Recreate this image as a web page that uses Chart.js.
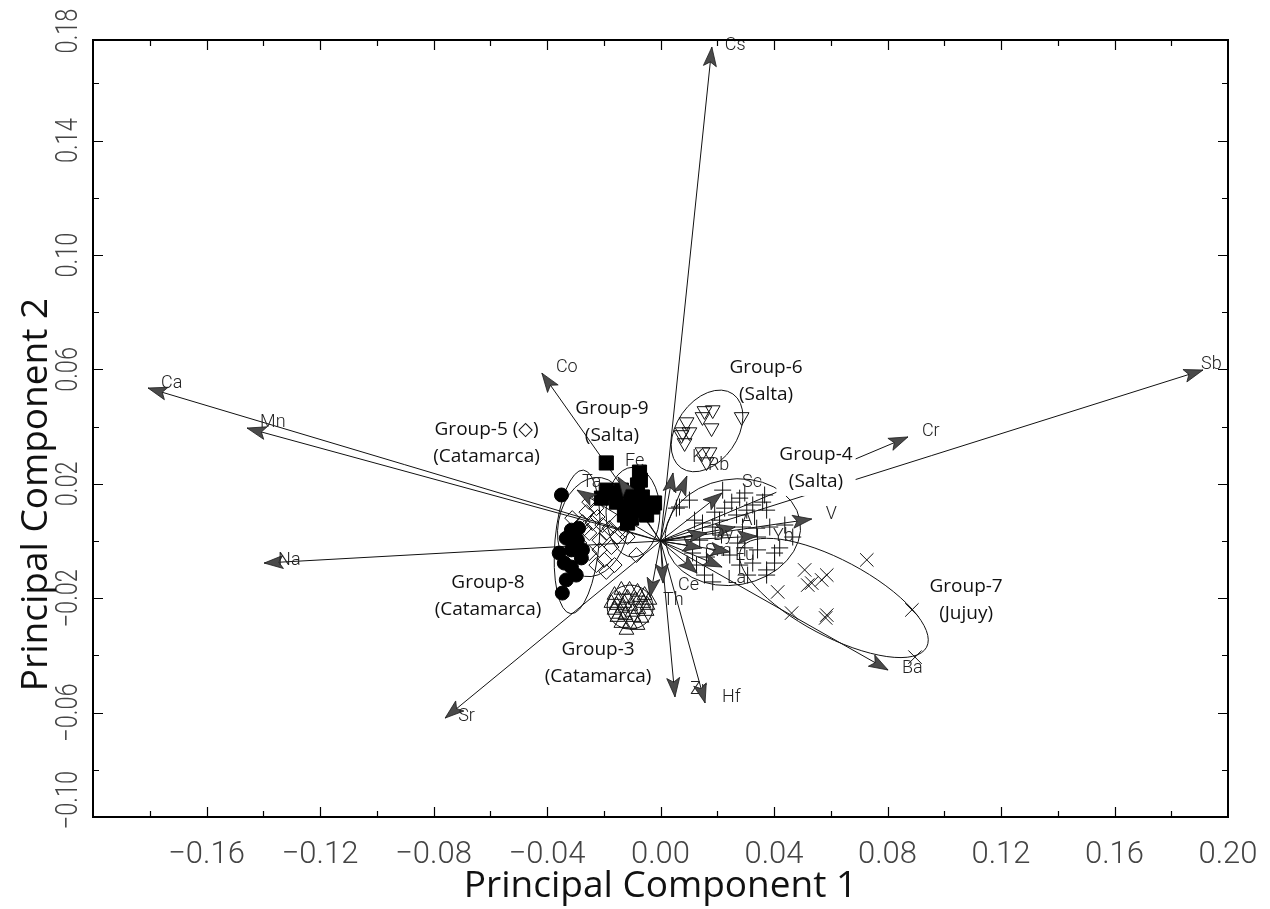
<!DOCTYPE html>
<html>
<head>
<meta charset="utf-8">
<script src="https://cdn.jsdelivr.net/npm/chart.js@4.4.1/dist/chart.umd.min.js"></script>
<style>
  html, body { margin: 0; padding: 0; background: #fff; }
  #wrap { width: 1270px; height: 909px; position: relative; }
</style>
</head>
<body>
<div id="wrap"><canvas id="biplot" width="1270" height="909"></canvas></div>
<script>
// ---- Axis tick labels ----
const xTickValues = [-0.16, -0.12, -0.08, -0.04, 0.00, 0.04, 0.08, 0.12, 0.16, 0.20];
const yTickValues = [-0.10, -0.06, -0.02, 0.02, 0.06, 0.10, 0.14, 0.18];

// ---- Element loadings (arrows from the origin) ----
const elementNames = ['Cs','Sb','Cr','Ca','Mn','Na','Co','Ta','Fe','K','Rb','Sc','V','Al','Dy','Yb','Sm','Eu','La','Lu','Ce','Th','Zr','Hf','Ba','Sr'];
const loadingPC1 = [0.0181, 0.1912, 0.0872, -0.1806, -0.1457, -0.1397, -0.0418, -0.0294, -0.0150, 0.0044, 0.0093, 0.0217, 0.0533, 0.0263, 0.0164, 0.0340, 0.0146, 0.0245, 0.0217, 0.0129, 0.0009, -0.0037, 0.0051, 0.0157, 0.0802, -0.0759];
const loadingPC2 = [0.1727, 0.0598, 0.0364, 0.0535, 0.0395, -0.0077, 0.0587, 0.0178, 0.0224, 0.0238, 0.0227, 0.0168, 0.0077, 0.0049, 0.0028, 0.0017, -0.0024, -0.0038, -0.0091, -0.0112, -0.0147, -0.0196, -0.0545, -0.0566, -0.0451, -0.0619];

// ---- Sample scores per group ----
const group3PC1 = [-0.0162,-0.0138,-0.0109,-0.0081,-0.0056,-0.0173,-0.0145,-0.0116,-0.0088,-0.0060,-0.0039,-0.0162,-0.0134,-0.0106,-0.0078,-0.0049,-0.0152,-0.0124,-0.0095,-0.0067,-0.0138,-0.0109,-0.0081,-0.0120,-0.0155,-0.0099,-0.0127,-0.0071,-0.0046,-0.0145];
const group3PC2 = [-0.0189,-0.0171,-0.0171,-0.0178,-0.0189,-0.0217,-0.0206,-0.0199,-0.0206,-0.0217,-0.0206,-0.0241,-0.0234,-0.0227,-0.0238,-0.0245,-0.0266,-0.0259,-0.0266,-0.0269,-0.0287,-0.0290,-0.0294,-0.0311,-0.0224,-0.0248,-0.0217,-0.0196,-0.0224,-0.0255];

const group4PC1 = [0.0102,0.0067,0.0219,0.0251,0.0279,0.0325,0.0360,0.0374,0.0191,0.0226,0.0268,0.0304,0.0120,0.0148,0.0184,0.0208,0.0289,0.0339,0.0385,0.0438,0.0466,0.0342,0.0272,0.0244,0.0297,0.0325,0.0279,0.0374,0.0402,0.0307,0.0374,0.0184,0.0155,0.0127,0.0113,0.0162,0.0056,0.0420,0.0342,0.0402,0.0297,0.0367,0.0138,0.0215];
const group4PC2 = [0.0143,0.0119,0.0178,0.0136,0.0150,0.0126,0.0136,0.0108,0.0101,0.0115,0.0091,0.0108,0.0073,0.0063,0.0049,0.0073,0.0049,0.0045,0.0049,0.0056,0.0014,0.0014,-0.0007,-0.0049,-0.0024,-0.0077,-0.0084,-0.0101,-0.0077,-0.0119,-0.0119,-0.0143,-0.0119,-0.0084,-0.0042,-0.0056,0.0115,-0.0024,-0.0031,-0.0042,0.0168,0.0161,0.0003,0.0021];

const group5PC1 = [-0.0251,-0.0226,-0.0311,-0.0275,-0.0240,-0.0205,-0.0155,-0.0191,-0.0152,-0.0116,-0.0173,-0.0215,-0.0251,-0.0198,-0.0162,-0.0226,-0.0085,-0.0191,-0.0251,-0.0286,-0.0215,-0.0311,-0.0261,-0.0134,-0.0222,-0.0268,-0.0180];
const group5PC2 = [0.0136,0.0115,0.0080,0.0066,0.0063,0.0056,0.0066,0.0028,0.0014,0.0014,-0.0021,-0.0031,-0.0042,-0.0066,-0.0084,-0.0084,-0.0049,-0.0108,0.0028,-0.0007,0.0003,0.0028,0.0101,0.0031,0.0084,0.0045,0.0045];

const group6PC1 = [0.0155,0.0184,0.0148,0.0180,0.0092,0.0078,0.0102,0.0085,0.0286,0.0148,0.0173,0.0162,0.0074];
const group6PC2 = [0.0455,0.0458,0.0434,0.0395,0.0416,0.0381,0.0381,0.0343,0.0434,0.0311,0.0311,0.0276,0.0371];

const group7PC1 = [0.0727,0.0508,0.0586,0.0533,0.0568,0.0519,0.0413,0.0462,0.0586,0.0582,0.0886,0.0897];
const group7PC2 = [-0.0066,-0.0101,-0.0119,-0.0147,-0.0136,-0.0154,-0.0178,-0.0252,-0.0259,-0.0269,-0.0241,-0.0406];

const group8PC1 = [-0.0349,-0.0314,-0.0293,-0.0332,-0.0357,-0.0314,-0.0279,-0.0314,-0.0297,-0.0332,-0.0346,-0.0275,-0.0289,-0.0339];
const group8PC2 = [0.0161,0.0038,0.0003,0.0010,-0.0042,-0.0031,-0.0059,-0.0091,-0.0119,-0.0136,-0.0182,-0.0031,0.0045,-0.0077];

const group9PC1 = [-0.0191,-0.0074,-0.0081,-0.0138,-0.0191,-0.0102,-0.0064,-0.0155,-0.0109,-0.0028,-0.0074,-0.0127,-0.0049,-0.0102,-0.0208,-0.0169,-0.0085,-0.0021,-0.0116,-0.0071];
const group9PC2 = [0.0273,0.0241,0.0196,0.0178,0.0178,0.0161,0.0154,0.0136,0.0119,0.0119,0.0108,0.0091,0.0091,0.0080,0.0150,0.0168,0.0136,0.0133,0.0063,0.0213];

// ---- Group confidence ellipses (PC units) ----
const ellipseGroups   = ['Group-3','Group-4','Group-5','Group-6','Group-7','Group-8','Group-9'];
const ellipseCenterX  = [-0.0107, 0.0255, -0.0238, 0.0164, 0.0611, -0.0294, -0.0097];
const ellipseCenterY  = [-0.0231, 0.0031, 0.0049, 0.0385, -0.0199, -0.0003, 0.0101];
const ellipseRadiusA  = [0.0081, 0.0240, 0.0123, 0.0159, 0.0370, 0.0078, 0.0095];
const ellipseRadiusB  = [0.0077, 0.0185, 0.0175, 0.0106, 0.0133, 0.0252, 0.0157];
const ellipseAngleDeg = [0, 10, -10, 55, -28, -5, 0];

// ---- Group captions (anchored in PC units) ----
const captionLines = [['Group-6','(Salta)'], ['Group-9','(Salta)'], ['Group-5 (\u25C7)','(Catamarca)'], ['Group-4','(Salta)'], ['Group-8','(Catamarca)'], ['Group-7','(Jujuy)'], ['Group-3','(Catamarca)']];
const captionPC1 = [0.0372, -0.0171, -0.0613, 0.0548, -0.0608, 0.1077, -0.0220];
const captionPC2 = [0.0608, 0.0462, 0.0388, 0.0301, -0.0147, -0.0161, -0.0378];

// ---- Presentation ----
const labelOffsets = {
  Cs:[13,-2], Sb:[-2,-6], Cr:[14,-5], Ca:[13,-5], Mn:[13,-6], Na:[14,-3], Co:[14,-6], Ta:[5,-8],
  Fe:[7,-15], K:[19,-15], Rb:[21,-11], Sc:[20,-10], V:[14,-5], Al:[6,-7], Dy:[6,2], Yb:[16,0],
  Sm:[3,4], Eu:[5,4], La:[5,11], Ce:[15,2], Th:[13,3], Zr:[15,-7], Hf:[17,-5], Ba:[14,-2], Sr:[13,-2]
};
const captionBackdrop = {'Group-4': true};
const yTitleText = 'Principal Component 2';
const tickFamily = "Roboto, 'Liberation Sans', sans-serif";
const textFamily = "'Open Sans', 'Noto Sans', 'DejaVu Sans', sans-serif";
const fmt = v => (v < -1e-9 ? '\u2212' : '') + Math.abs(v).toFixed(2);

const toPoints = (xs, ys) => xs.map((x, i) => ({x, y: ys[i]}));

const groupDatasets = [
  {label:'Group-9', data: toPoints(group9PC1, group9PC2), pointStyle:'rect', pointRadius:10, pointBackgroundColor:'#000', pointBorderColor:'#000', pointBorderWidth:1},
  {label:'Group-8', data: toPoints(group8PC1, group8PC2), pointStyle:'circle', pointRadius:7, pointBackgroundColor:'#000', pointBorderColor:'#000', pointBorderWidth:1},
  {label:'Group-5', data: toPoints(group5PC1, group5PC2), pointStyle:'rectRot', pointRadius:7.5, pointBackgroundColor:'rgba(255,255,255,0)', pointBorderColor:'#111', pointBorderWidth:1},
  {label:'Group-3', data: toPoints(group3PC1, group3PC2), pointStyle:'triangle', pointRadius:8.5, pointBackgroundColor:'rgba(255,255,255,0)', pointBorderColor:'#111', pointBorderWidth:1},
  {label:'Group-6', data: toPoints(group6PC1, group6PC2), pointStyle:'triangle', pointRotation:180, pointRadius:8.5, pointBackgroundColor:'rgba(255,255,255,0)', pointBorderColor:'#111', pointBorderWidth:1},
  {label:'Group-4', data: toPoints(group4PC1, group4PC2), pointStyle:'cross', pointRadius:8.5, pointBorderColor:'#111', pointBorderWidth:1},
  {label:'Group-7', data: toPoints(group7PC1, group7PC2), pointStyle:'crossRot', pointRadius:9.5, pointBorderColor:'#111', pointBorderWidth:1}
].map(d => Object.assign({showLine:false}, d));

const loadingDatasets = elementNames.map((name, i) => ({
  label: name,
  isLoading: true,
  data: [{x:0, y:0}, {x: loadingPC1[i], y: loadingPC2[i]}],
  showLine: true,
  borderColor: '#111',
  borderWidth: 1,
  pointRadius: 0,
  fill: false
}));

// Ellipses, arrowheads, element names, group captions, frame and ticks
const biplotDecor = {
  id: 'biplotDecor',
  beforeDatasetsDraw(chart) {
    const {ctx, scales: {x, y}} = chart;
    const pxX = x.getPixelForValue(1) - x.getPixelForValue(0);
    const pxY = y.getPixelForValue(0) - y.getPixelForValue(1);
    ctx.save();
    ctx.strokeStyle = '#111';
    ctx.lineWidth = 1;
    ellipseGroups.forEach((g, i) => {
      ctx.beginPath();
      ctx.ellipse(x.getPixelForValue(ellipseCenterX[i]), y.getPixelForValue(ellipseCenterY[i]),
        ellipseRadiusA[i] * pxX, ellipseRadiusB[i] * pxY, -ellipseAngleDeg[i] * Math.PI / 180, 0, Math.PI * 2);
      ctx.stroke();
    });
    ctx.restore();
  },
  afterDatasetsDraw(chart) {
    const {ctx, scales: {x, y}} = chart;
    ctx.save();
    chart.data.datasets.forEach((ds, di) => {
      if (!ds.isLoading) return;
      const pts = chart.getDatasetMeta(di).data;
      const p0 = pts[0], p1 = pts[1];
      const a = Math.atan2(p1.y - p0.y, p1.x - p0.x);
      const L = 19, W = 6.5;
      const bx = p1.x - L * Math.cos(a), by = p1.y - L * Math.sin(a);
      const nx = p1.x - 0.78 * L * Math.cos(a), ny = p1.y - 0.78 * L * Math.sin(a);
      ctx.beginPath();
      ctx.moveTo(p1.x, p1.y);
      ctx.lineTo(bx - W * Math.sin(a), by + W * Math.cos(a));
      ctx.lineTo(nx, ny);
      ctx.lineTo(bx + W * Math.sin(a), by - W * Math.cos(a));
      ctx.closePath();
      ctx.fillStyle = '#4a4a4a';
      ctx.fill();
      ctx.strokeStyle = '#1a1a1a';
      ctx.lineWidth = 0.8;
      ctx.stroke();
      const off = labelOffsets[ds.label];
      if (off) {
        ctx.fillStyle = '#222';
        ctx.font = "300 18px " + tickFamily;
        ctx.textAlign = 'left';
        ctx.textBaseline = 'middle';
        ctx.fillText(ds.label, p1.x + off[0], p1.y + off[1]);
      }
    });
    ctx.font = "19px " + textFamily;
    ctx.textAlign = 'center';
    ctx.textBaseline = 'middle';
    captionLines.forEach((lines, i) => {
      const cx = x.getPixelForValue(captionPC1[i]);
      const cy = y.getPixelForValue(captionPC2[i]);
      if (captionBackdrop[lines[0]]) {
        const w = Math.max(...lines.map(t => ctx.measureText(t).width)) + 6;
        ctx.fillStyle = '#fff';
        ctx.fillRect(cx - w / 2, cy - 13, w, 27 * lines.length);
      }
      ctx.fillStyle = '#111';
      lines.forEach((t, k) => ctx.fillText(t, cx, cy + k * 27));
    });
    ctx.restore();
  },
  afterDraw(chart) {
    const {ctx, chartArea: ca, scales: {x, y}} = chart;
    ctx.save();
    ctx.strokeStyle = '#000';
    ctx.lineWidth = 2;
    ctx.strokeRect(ca.left, ca.top, ca.right - ca.left, ca.bottom - ca.top);
    ctx.lineWidth = 1.2;
    const xMinor = xTickValues.slice(0, -1).map((v, i) => (v + xTickValues[i + 1]) / 2).concat([xTickValues[0] - 0.02]);
    const yMinor = yTickValues.slice(0, -1).map((v, i) => (v + yTickValues[i + 1]) / 2);
    const drawX = (v, len) => {
      const px = Math.round(x.getPixelForValue(v)) + 0.5;
      if (px <= ca.left + 1 || px >= ca.right - 1) return;
      ctx.beginPath();
      ctx.moveTo(px, ca.bottom); ctx.lineTo(px, ca.bottom - len);
      ctx.moveTo(px, ca.top); ctx.lineTo(px, ca.top + len);
      ctx.stroke();
    };
    const drawY = (v, len) => {
      const py = Math.round(y.getPixelForValue(v)) + 0.5;
      if (py <= ca.top + 1 || py >= ca.bottom - 1) return;
      ctx.beginPath();
      ctx.moveTo(ca.left, py); ctx.lineTo(ca.left + len, py);
      ctx.moveTo(ca.right, py); ctx.lineTo(ca.right - len, py);
      ctx.stroke();
    };
    xTickValues.forEach(v => drawX(v, 10));
    xMinor.forEach(v => drawX(v, 6));
    yTickValues.forEach(v => drawY(v, 10));
    yMinor.forEach(v => drawY(v, 6));

    // vertical axis tick labels (condensed along the reading direction) and title
    ctx.fillStyle = '#444';
    ctx.font = "300 31px " + tickFamily;
    ctx.textAlign = 'center';
    ctx.textBaseline = 'middle';
    yTickValues.forEach(v => {
      let py = y.getPixelForValue(v);
      if (py > ca.bottom) py = ca.bottom - 17;
      if (py < 31) py = 31;
      ctx.save();
      ctx.translate(69, py);
      ctx.rotate(-Math.PI / 2);
      ctx.scale(0.76, 1);
      ctx.fillText(fmt(v), 0, 0);
      ctx.restore();
    });
    ctx.fillStyle = '#111';
    ctx.font = "37px " + textFamily;
    ctx.save();
    ctx.translate(36, (ca.top + ca.bottom) / 2 + 66);
    ctx.rotate(-Math.PI / 2);
    ctx.fillText(yTitleText, 0, 0);
    ctx.restore();
    ctx.restore();
  }
};

new Chart(document.getElementById('biplot'), {
  type: 'scatter',
  data: { datasets: groupDatasets.concat(loadingDatasets) },
  plugins: [biplotDecor],
  options: {
    responsive: false,
    animation: false,
    events: [],
    layout: { padding: { left: 0, right: 42, top: 40, bottom: 0 } },
    plugins: { legend: { display: false }, tooltip: { enabled: false } },
    scales: {
      x: {
        type: 'linear', position: 'bottom', min: -0.2, max: 0.2,
        afterBuildTicks: s => { s.ticks = xTickValues.map(v => ({value: v})); },
        afterFit: s => { s.height = 92; s.paddingLeft = 0; s.paddingRight = 0; },
        grid: { display: false, drawTicks: false },
        border: { display: false },
        ticks: { autoSkip: false, maxRotation: 0, minRotation: 0, padding: 20, color: '#444',
                 font: { family: tickFamily, size: 31, weight: '300' }, callback: v => fmt(v) },
        title: { display: true, text: 'Principal Component 1', color: '#111',
                 font: { family: textFamily, size: 37 }, padding: { top: 0, bottom: 0 } }
      },
      y: {
        type: 'linear', position: 'left', min: -0.0965, max: 0.1752,
        afterBuildTicks: s => { s.ticks = yTickValues.map(v => ({value: v})); },
        afterFit: s => { s.width = 93; s.paddingTop = 0; s.paddingBottom = 0; },
        grid: { display: false, drawTicks: false },
        border: { display: false },
        ticks: { display: false },
        title: { display: false }
      }
    }
  }
});
</script>
</body>
</html>
